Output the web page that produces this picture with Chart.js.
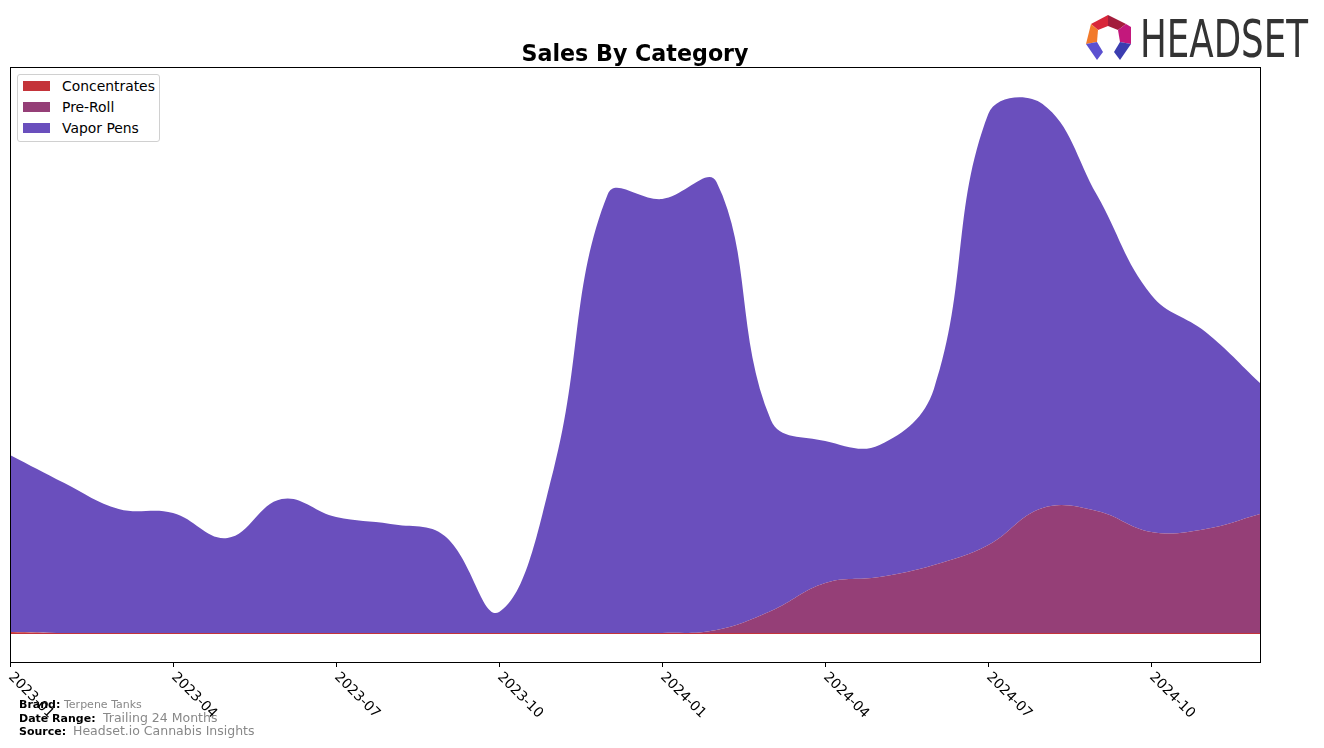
<!DOCTYPE html>
<html>
<head>
<meta charset="utf-8">
<script src="https://cdn.jsdelivr.net/npm/chart.js@4/dist/chart.umd.min.js"></script>
<style>
  body { margin: 0; background: #fff; font-family: "DejaVu Sans", sans-serif; }
  #wrap { position: relative; width: 1324px; height: 748px; }
  #chart { position: absolute; left: 0; top: 0; }
  .title { position: absolute; left: 0; width: 1270px; top: 40px; text-align: center; font-weight: bold; font-size: 22.2px; color: #000; }
  .legend { position: absolute; left: 17px; top: 74px; width: 141px; height: 66px; border: 1px solid #d0d0d0; border-radius: 3px; background: #fff; }
  .legend div { position: absolute; left: 44px; font-size: 13.9px; color: #000; line-height: 16px; white-space: nowrap; }
  .legend span { position: absolute; left: -39px; top: 3px; width: 27px; height: 10px; }
  .foot { position: absolute; font-size: 11px; color: #000; white-space: nowrap; line-height: 13px; }
  .foot.b { font-weight: bold; left: 19px; }
  .foot.v { color: #888; }
  .logo { position: absolute; left: 1080px; top: 10px; }
</style>
</head>
<body>
<div id="wrap">
  <canvas id="chart" width="1324" height="748"></canvas>
  <div class="title">Sales By Category</div>
  <div class="legend">
    <div style="top:3px"><span style="background:#c4343a"></span>Concentrates</div>
    <div style="top:24px"><span style="background:#953f77"></span>Pre-Roll</div>
    <div style="top:45px"><span style="background:#6a4fbd"></span>Vapor Pens</div>
  </div>
  <div class="foot b" style="top:698px">Brand:</div>
  <div class="foot v" style="top:698px; left:64px">Terpene Tanks</div>
  <div class="foot b" style="top:712px">Date Range:</div>
  <div class="foot v" style="top:710px; left:103px; font-size:12.5px; line-height:15px">Trailing 24 Months</div>
  <div class="foot b" style="top:725px">Source:</div>
  <div class="foot v" style="top:723px; left:73px; font-size:12.5px; line-height:15px">Headset.io Cannabis Insights</div>
  <svg class="logo" width="240" height="55" viewBox="1080 10 240 55">
    <polygon points="1091,24 1108,15 1108,26 1098,30" fill="#d8263a"/>
    <polygon points="1108,15 1126,24 1118,30 1108,26" fill="#a31d3c"/>
    <polygon points="1091,24 1098,30 1097,42 1086,44" fill="#f27a2b"/>
    <polygon points="1126,24 1131,27 1131,44 1120,42 1118,30" fill="#c3187c"/>
    <polygon points="1086,44 1097,42 1103,52 1097,60" fill="#5b50d0"/>
    <polygon points="1131,44 1120,42 1114,52 1120,60" fill="#3b3db0"/>
    <text x="1140" y="57" font-family="DejaVu Sans" font-size="52" fill="#333" textLength="168" lengthAdjust="spacingAndGlyphs">HEADSET</text>
  </svg>
</div>
<script>
const months = ["2023-01","2023-02","2023-03","2023-04","2023-05","2023-06","2023-07","2023-08","2023-09","2023-10","2023-11","2023-12",
                "2024-01","2024-02","2024-03","2024-04","2024-05","2024-06","2024-07","2024-08","2024-09","2024-10","2024-11","2024-12"];
const tickMonths = ["2023-01","2023-04","2023-07","2023-10","2024-01","2024-04","2024-07","2024-10"];
const concentrates = [2,1,1,1,1,1,1,1,1,1,1,1,1,1,1,1,1,1,1,1,1,1,1,1];
const preRoll = [0,0,0,0,0,0,0,0,0,0,0,0,0,3,22,50,56,68,88,125,122,101,104,119];
const vaporPens = [177,150,124,120,95,134,116,109,97,21,163,439,434,448,191,142,132,176,431,404,316,237,197,131];

// frame + rotated month ticks
const axisPlugin = {
  id: "axisPlugin",
  afterDraw(chart) {
    const ctx = chart.ctx;
    const a = chart.chartArea;
    const xs = chart.scales.x;
    ctx.save();
    ctx.strokeStyle = "#000";
    ctx.lineWidth = 1;
    ctx.strokeRect(a.left + 0.5, a.top + 0.5, a.right - a.left, a.bottom - a.top);
    ctx.fillStyle = "#000";
    ctx.font = "13.9px 'DejaVu Sans'";
    tickMonths.forEach(m => {
      const x = Math.round(xs.getPixelForValue(months.indexOf(m))) + 0.5;
      ctx.beginPath();
      ctx.moveTo(x, a.bottom);
      ctx.lineTo(x, a.bottom + 5);
      ctx.stroke();
      ctx.save();
      ctx.translate(x + 5, a.bottom + 8);
      ctx.rotate(Math.PI / 4);
      ctx.textAlign = "left";
      ctx.textBaseline = "top";
      ctx.fillText(m, 0, 0);
      ctx.restore();
    });
    ctx.restore();
  }
};

new Chart(document.getElementById("chart"), {
  type: "line",
  data: {
    labels: months,
    datasets: [
      { label: "Concentrates", data: concentrates, backgroundColor: "#c4343a", fill: "origin" },
      { label: "Pre-Roll", data: preRoll, backgroundColor: "#953f77", fill: "-1" },
      { label: "Vapor Pens", data: vaporPens, backgroundColor: "#6a4fbd", fill: "-1" }
    ]
  },
  options: {
    responsive: false,
    animation: false,
    layout: { padding: { left: 10, top: 67, right: 64, bottom: 86 } },
    elements: { line: { tension: 0.4, borderWidth: 0 }, point: { radius: 0 } },
    plugins: { legend: { display: false }, title: { display: false }, tooltip: { enabled: false } },
    scales: {
      x: { display: false, offset: false },
      y: { display: false, stacked: true, min: -28, max: 567 }
    }
  },
  plugins: [axisPlugin]
});
</script>
</body>
</html>
